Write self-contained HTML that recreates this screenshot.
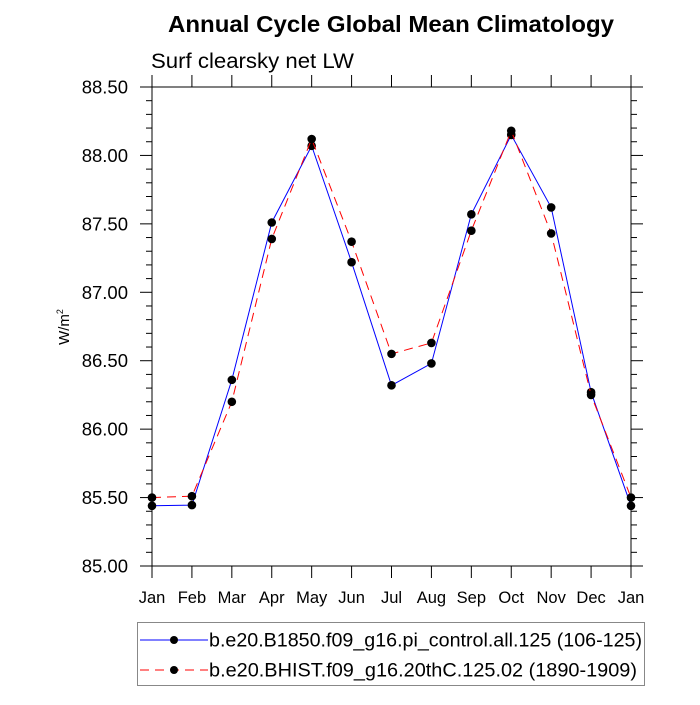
<!DOCTYPE html>
<html><head><meta charset="utf-8"><style>
body{margin:0;background:#fff}
svg text{font-family:"Liberation Sans",Arial,sans-serif}
</style></head><body>
<svg id="chart" width="700" height="700" xmlns="http://www.w3.org/2000/svg">
<text x="391" y="32" font-size="23.5" font-weight="bold" text-anchor="middle" textLength="446" lengthAdjust="spacingAndGlyphs">Annual Cycle Global Mean Climatology</text>
<text x="151" y="68" font-size="21" textLength="203" lengthAdjust="spacingAndGlyphs">Surf clearsky net LW</text>
<text transform="translate(69,327) rotate(-90)" font-size="15" text-anchor="middle">W/m<tspan font-size="9" dy="-6">2</tspan></text>
<g id="axes"></g>
<g id="series"></g>
<g id="legend">
<rect x="137.5" y="622.5" width="507" height="63" fill="none" stroke="#888" stroke-width="1"/>
<g>
<line x1="140" y1="640" x2="208" y2="640" stroke="#0000ff" stroke-width="1"/>
<circle cx="174" cy="640" r="4" fill="#000"/>
<text x="209" y="646.5" font-size="19" textLength="433" lengthAdjust="spacingAndGlyphs">b.e20.B1850.f09_g16.pi_control.all.125 (106-125)</text>
</g>
<g>
<line x1="140" y1="670" x2="208" y2="670" stroke="#ff0000" stroke-width="1" stroke-dasharray="9,6"/>
<circle cx="174" cy="670" r="4" fill="#000"/>
<text x="209" y="676.5" font-size="19" textLength="428" lengthAdjust="spacingAndGlyphs">b.e20.BHIST.f09_g16.20thC.125.02 (1890-1909)</text>
</g>
</g>
</svg>
<script>
const months=["Jan","Feb","Mar","Apr","May","Jun","Jul","Aug","Sep","Oct","Nov","Dec","Jan"];
const piControl=[85.44,85.445,86.36,87.51,88.07,87.22,86.32,86.48,87.57,88.15,87.62,86.27,85.44];
const bhist=[85.50,85.51,86.20,87.39,88.12,87.37,86.55,86.63,87.45,88.18,87.43,86.25,85.50];
const yTicks=[85.0,85.5,86.0,86.5,87.0,87.5,88.0,88.5];
const yTickLabels=["85.00","85.50","86.00","86.50","87.00","87.50","88.00","88.50"];
const yMin=85.0,yMax=88.5;
const L=152,R=631,T=87,B=566;
const NS="http://www.w3.org/2000/svg";
function xs(i){return L+(R-L)*i/(months.length-1);}
function ys(v){return B-(v-yMin)/(yMax-yMin)*(B-T);}
function mk(tag,attrs,parent){const e=document.createElementNS(NS,tag);for(const k in attrs)e.setAttribute(k,attrs[k]);parent.appendChild(e);return e;}
const ax=document.getElementById('axes');
const frame=mk('rect',{x:L,y:T,width:R-L,height:B-T,fill:'none',stroke:'#000','stroke-width':1},ax);


months.forEach((m,i)=>{
  const x=xs(i);
  const tb=mk('line',{x1:x,y1:B,x2:x,y2:B+12,stroke:'#000'},ax);
  
  
  const tt=mk('line',{x1:x,y1:T,x2:x,y2:T-12,stroke:'#000'},ax);
  
  
  const t=mk('text',{x:x,y:B+37,'font-size':16.5,'text-anchor':'middle'},ax);
  t.textContent=m;
  
  
});
yTicks.forEach((v,i)=>{
  const y=ys(v);
  const tl=mk('line',{x1:L-12,y1:y,x2:L,y2:y,stroke:'#000'},ax);
  
  
  const tr=mk('line',{x1:R,y1:y,x2:R+12,y2:y,stroke:'#000'},ax);
  
  
  const t=mk('text',{x:L-24,y:y+6.5,'font-size':18.5,'text-anchor':'end'},ax);
  t.textContent=yTickLabels[i];
  
  
  if(i<yTicks.length-1){
    for(let k=1;k<5;k++){
      const ym=ys(v+0.1*k);
      const a=mk('line',{x1:L-6,y1:ym,x2:L,y2:ym,stroke:'#000'},ax);
      
      
      const b=mk('line',{x1:R,y1:ym,x2:R+6,y2:ym,stroke:'#000'},ax);
      
      
    }
  }
});
const sg=document.getElementById('series');
function drawSeries(vals,color,dash,name){
  const pts=vals.map((v,i)=>xs(i)+','+ys(v)).join(' ');
  const pl=mk('polyline',{points:pts,fill:'none',stroke:color,'stroke-width':1,'stroke-dasharray':dash},sg);
  
  
  vals.forEach((v,i)=>{
    const c=mk('circle',{cx:xs(i),cy:ys(v),r:4.3,fill:'#000'},sg);
    
    
  });
}
drawSeries(piControl,'#0000ff','none','pi-control');
drawSeries(bhist,'#ff0000','9,6','bhist');
</script>
</body></html>
